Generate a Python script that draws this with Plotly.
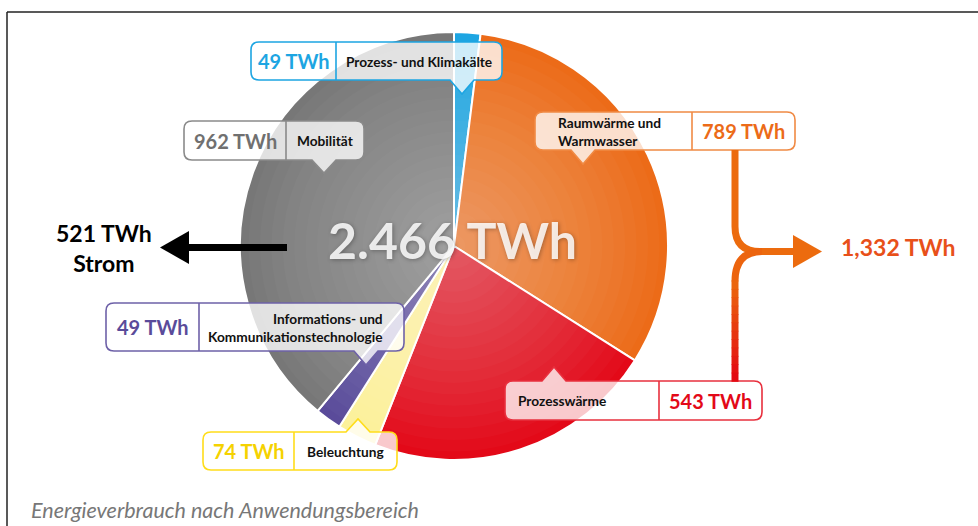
import plotly.graph_objects as go

# ---------------- data ----------------
categories = ["Prozess- und Klimakälte", "Raumwärme und Warmwasser", "Prozesswärme",
              "Beleuchtung", "Informations- und Kommunikationstechnologie", "Mobilität"]
values_twh = [49, 789, 543, 74, 49, 962]
total_label = "2.466 TWh"
strom_label = "521 TWh<br>Strom"
heat_label = "1,332 TWh"
caption = "Energieverbrauch nach Anwendungsbereich"

slice_colors = ["#1DA5E2", "#EC6B18", "#E30918", "#FCF19A", "#5A4B9A", "#777777"]
value_colors = ["#1DA5E2", "#EC6B18", "#E30918", "#F5D200", "#5A4B9A", "#707070"]
border_colors = ["#1DA5E2", "#F08A44", "#E8303E", "#FFDD1A", "#6E61A8", "#8A8A8A"]

W, H = 978, 526
FONT = "Lato"

# pie geometry (pixels)
cx, cy, R = 454, 246, 214

fig = go.Figure()
fig.add_trace(go.Pie(
    values=values_twh, labels=categories, sort=False, direction="clockwise", rotation=0,
    marker=dict(colors=slice_colors, line=dict(color="white", width=2)),
    textinfo="none", hoverinfo="label+value", showlegend=False,
    domain=dict(x=[(cx - R) / W, (cx + R) / W], y=[1 - (cy + R) / H, 1 - (cy - R) / H]),
))
# invisible helper trace so that the pixel-coordinate axes exist
fig.add_trace(go.Scatter(x=[0, W], y=[0, H], mode="markers", marker=dict(opacity=0),
                         hoverinfo="skip", showlegend=False))

shapes = []
annotations = []

# frame (top and left lines)
shapes.append(dict(type="line", x0=7, x1=W, y0=12, y1=12, line=dict(color="#222", width=1.5)))
shapes.append(dict(type="line", x0=7, x1=7, y0=12, y1=H, line=dict(color="#222", width=1.5)))

# radial highlight on the pie
n = 18
for k in range(n, 0, -1):
    r = R * 0.96 * k / n
    shapes.append(dict(type="circle", x0=cx - r, x1=cx + r, y0=cy - r, y1=cy + r,
                       fillcolor="rgba(255,255,255,0.022)", line=dict(width=0), layer="above"))


def box_path(x0, x1, y0, y1, px, tip, up, rad=8, hw=12):
    p = f"M {x0 + rad} {y0} "
    if up:
        p += f"L {px - hw} {y0} L {px} {tip} L {px + hw} {y0} "
    p += f"L {x1 - rad} {y0} Q {x1} {y0} {x1} {y0 + rad} L {x1} {y1 - rad} Q {x1} {y1} {x1 - rad} {y1} "
    if not up:
        p += f"L {px + hw} {y1} L {px} {tip} L {px - hw} {y1} "
    p += f"L {x0 + rad} {y1} Q {x0} {y1} {x0} {y1 - rad} L {x0} {y0 + rad} Q {x0} {y0} {x0 + rad} {y0} Z"
    return p


# label boxes: (index, x0, x1, y0, y1, divider, pointer x, tip y, up, value side, label text, label align, label x)
boxes = [
    (0, 251, 502, 42, 80, 336, 462, 94, False, "left", "Prozess- und Klimakälte", "center", None),
    (5, 184, 364, 121, 160, 286, 324, 173, False, "left", "Mobilität", "center", None),
    (1, 535, 795, 112, 150, 692, 583, 164, False, "right", "Raumwärme und<br>Warmwasser", "left", 556),
    (4, 106, 404, 303, 351, 199, 366, 365, False, "left",
     "Informations- und<br>Kommunikationstechnologie", "right", 385),
    (3, 203, 397, 432, 470, 294, 358, 419, True, "left", "Beleuchtung", "center", None),
    (2, 505, 762, 381, 420, 659, 554, 367, True, "right", "Prozesswärme", "left", 516),
]

LBL = 13.7
for (i, x0, x1, y0, y1, dv, px, tip, up, vside, ltxt, lalign, lx) in boxes:
    shapes.append(dict(type="path", path=box_path(x0, x1, y0, y1, px, tip, up),
                       fillcolor="rgba(255,255,255,0.78)",
                       line=dict(color=border_colors[i], width=1.6), layer="above"))
    shapes.append(dict(type="line", x0=dv, x1=dv, y0=y0, y1=y1,
                       line=dict(color=border_colors[i], width=1.6), layer="above"))
    ym = (y0 + y1) / 2
    if vside == "left":
        vx = (x0 + dv) / 2
        lcx = (dv + x1) / 2
    else:
        vx = (dv + x1) / 2
        lcx = (x0 + dv) / 2
    annotations.append(dict(x=vx, y=ym, text=f"<b>{values_twh[i]} TWh</b>", showarrow=False,
                            xanchor="center", yanchor="middle",
                            font=dict(family=FONT, size=20, color=value_colors[i])))
    if lalign == "center":
        annotations.append(dict(x=lcx, y=ym, text=f"<b>{ltxt}</b>", showarrow=False,
                                xanchor="center", yanchor="middle",
                                font=dict(family=FONT, size=LBL, color="#111")))
    else:
        annotations.append(dict(x=lx, y=ym, text=f"<b>{ltxt}</b>", showarrow=False,
                                xanchor=lalign, yanchor="middle", align=lalign,
                                font=dict(family=FONT, size=LBL, color="#111")))

# centre total
annotations.append(dict(x=452, y=240, text=f"<b>{total_label}</b>", showarrow=False,
                        xanchor="center", yanchor="middle",
                        font=dict(family=FONT, size=50, color="rgba(255,255,255,0.85)",
                                  shadow="1px 1px 4px rgba(0,0,0,0.35)")))

# electricity arrow (left)
shapes.append(dict(type="line", x0=287, x1=185, y0=247.5, y1=247.5,
                   line=dict(color="black", width=7), layer="above"))
shapes.append(dict(type="path", path="M 189 231 L 160 247.5 L 189 264 Z",
                   fillcolor="black", line=dict(width=0), layer="above"))
annotations.append(dict(x=104, y=248, text=f"<b>{strom_label}</b>", showarrow=False,
                        xanchor="center", yanchor="middle",
                        font=dict(family=FONT, size=23, color="black")))

# heat bracket arrow (right)
orange = (236, 107, 14)
red = (227, 6, 19)
lx_, ym_ = 735, 251.5
shapes.append(dict(type="path",
                   path=f"M {lx_} 150 L {lx_} {ym_ - 25} Q {lx_} {ym_} {lx_ + 25} {ym_} L 795 {ym_}",
                   line=dict(color="rgb(236,107,14)", width=7), layer="above"))
shapes.append(dict(type="path",
                   path=f"M {lx_} {ym_ + 30} Q {lx_} {ym_} {lx_ + 27} {ym_}",
                   line=dict(color="rgb(236,100,14)", width=7), layer="above"))
nseg = 12
ys, ye = ym_ + 29, 381
for s in range(nseg):
    t = (s + 0.5) / nseg
    c = tuple(int(orange[j] + (red[j] - orange[j]) * t) for j in range(3))
    a = ys + (ye - ys) * s / nseg
    b = ys + (ye - ys) * (s + 1) / nseg + 0.8
    shapes.append(dict(type="line", x0=lx_, x1=lx_, y0=a, y1=b,
                       line=dict(color=f"rgb{c}", width=7), layer="above"))
shapes.append(dict(type="path", path=f"M 793 {ym_ - 16.5} L 822 {ym_} L 793 {ym_ + 16.5} Z",
                   fillcolor="rgb(236,107,14)", line=dict(width=0), layer="above"))
annotations.append(dict(x=839, y=247, text=f"<b>{heat_label}</b>", showarrow=False,
                        xanchor="left", yanchor="middle",
                        font=dict(family=FONT, size=23, color="#E8501A")))

# caption
annotations.append(dict(x=29, y=510, text=f"<i>{caption}</i>", showarrow=False,
                        xanchor="left", yanchor="middle",
                        font=dict(family=FONT, size=21.5, color="#777777")))

fig.update_layout(
    width=W, height=H, margin=dict(l=0, r=0, t=0, b=0),
    paper_bgcolor="white", plot_bgcolor="rgba(0,0,0,0)",
    xaxis=dict(range=[0, W], visible=False, fixedrange=True),
    yaxis=dict(range=[H, 0], visible=False, fixedrange=True),
    shapes=shapes, annotations=annotations, showlegend=False,
)

fig.write_html("out.html", config=dict(displayModeBar=False),
               post_script="document.body.style.margin='0';document.body.style.overflow='hidden';")
